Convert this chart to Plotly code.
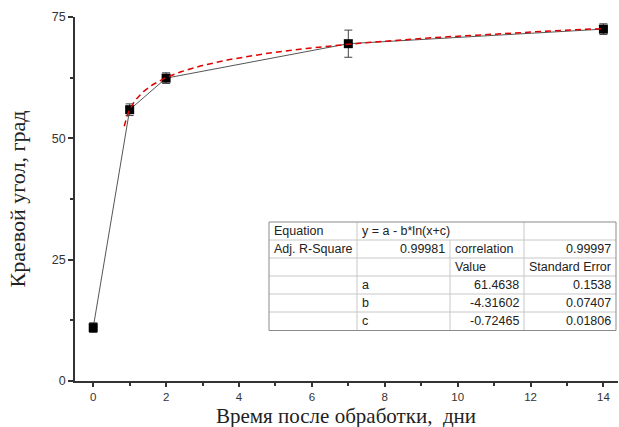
import numpy as np
import plotly.graph_objects as go

# ---- data ----
days = [0, 1, 2, 7, 14]
angle = [11.0, 55.9, 62.4, 69.5, 72.5]
angle_err = [1.0, 1.2, 1.1, 2.8, 1.1]

# fit parameters y = a - b*ln(x+c)
fit_a = 61.4638
fit_b = -4.31602
fit_c = -0.72465
fit_x_start = 0.85
fit_x_end = 14

# table texts
tbl_rows = [
    ["Equation", "y = a - b*ln(x+c)", "", ""],
    ["Adj. R-Square", "0.99981", "correlation", "0.99997"],
    ["", "", "Value", "Standard Error"],
    ["", "a", "61.4638", "0.1538"],
    ["", "b", "-4.31602", "0.07407"],
    ["", "c", "-0.72465", "0.01806"],
]
tbl_align = [
    ["left", "left", "left", "left"],
    ["left", "right", "left", "right"],
    ["left", "left", "left", "left"],
    ["left", "left", "right", "right"],
    ["left", "left", "right", "right"],
    ["left", "left", "right", "right"],
]

x_title = "Время после обработки,  дни"
y_title = "Краевой угол, град"

# ---- layout geometry (pixels) ----
W, H = 619, 427
L, R, T, B = 75, 1, 17, 46
pw, ph = W - L - R, H - T - B

def px(x):
    return (x - L) / pw

def py(y):
    return (H - B - y) / ph

fx = np.linspace(fit_x_start, fit_x_end, 300)
fy = fit_a - fit_b * np.log(fx + fit_c)

fig = go.Figure()
fig.add_trace(go.Scatter(
    x=days, y=angle, mode="lines+markers",
    line=dict(color="#555555", width=1),
    marker=dict(symbol="square", size=9, color="black"),
    error_y=dict(type="data", array=angle_err, visible=True,
                 color="#444444", thickness=1, width=4),
    showlegend=False,
))
fig.add_trace(go.Scatter(
    x=fx, y=fy, mode="lines",
    line=dict(color="#e00000", width=1.5, dash="6px,4px"),
    showlegend=False,
))

# table drawing
col_x = [269, 357, 450, 524, 616]
row_y = [222, 240, 258, 276, 294, 312, 330.5]
shapes = []
inner = dict(color="#c8c8c8", width=1)
for j, yv in enumerate(row_y[1:-1], start=1):
    shapes.append(dict(type="line", xref="paper", yref="paper",
                       x0=px(col_x[0]), x1=px(col_x[-1]), y0=py(yv), y1=py(yv), line=inner))
for i, xv in enumerate(col_x[1:-1], start=1):
    ytop = row_y[0] if i != 2 else row_y[1]
    shapes.append(dict(type="line", xref="paper", yref="paper",
                       x0=px(xv), x1=px(xv), y0=py(ytop), y1=py(row_y[-1]), line=inner))
shapes.append(dict(type="rect", xref="paper", yref="paper",
                   x0=px(col_x[0]), x1=px(col_x[-1]), y0=py(row_y[0]), y1=py(row_y[-1]),
                   line=dict(color="#8a8a8a", width=1), fillcolor="rgba(0,0,0,0)"))

annotations = []
for r, row in enumerate(tbl_rows):
    yc = (row_y[r] + row_y[r + 1]) / 2
    for c, txt in enumerate(row):
        if not txt:
            continue
        al = tbl_align[r][c]
        if al == "left":
            xa, anchor = col_x[c] + 3, "left"
        else:
            xa, anchor = col_x[c + 1] - 3, "right"
        annotations.append(dict(text=txt, x=px(xa), y=py(yc), xref="paper", yref="paper",
                                xanchor=anchor, yanchor="middle", showarrow=False,
                                font=dict(family="Liberation Sans, Arial", size=12.5, color="#222222")))

# x-axis title as annotation placed below tick labels
annotations.append(dict(text=x_title, x=px(346), y=py(429.5), xref="paper", yref="paper",
                        xanchor="center", yanchor="bottom", showarrow=False,
                        font=dict(family="Liberation Serif, Times New Roman", size=21, color="#222222")))

fig.update_layout(
    width=W, height=H,
    margin=dict(l=L, r=R, t=T, b=B),
    paper_bgcolor="white", plot_bgcolor="white",
    shapes=shapes, annotations=annotations,
    font=dict(family="Liberation Sans, Arial", size=12, color="#333333"),
)
fig.update_xaxes(
    range=[-0.5, 14.4], tickmode="array", tickvals=[0, 2, 4, 6, 8, 10, 12, 14],
    ticks="outside", ticklen=4, tickwidth=1.5, tickcolor="#333333",
    showline=True, linecolor="#333333", linewidth=1.5, showgrid=False, zeroline=False,
    minor=dict(tickvals=[1, 3, 5, 7, 9, 11, 13], ticks="outside", ticklen=3, tickwidth=1.5, tickcolor="#333333"),
    tickfont=dict(size=11.5, color="#333333"),
)
fig.update_yaxes(
    range=[0, 75], tickmode="array", tickvals=[0, 25, 50, 75],
    ticks="outside", ticklen=5, tickwidth=1.5, tickcolor="#333333",
    showline=True, linecolor="#333333", linewidth=1.5, showgrid=False, zeroline=False,
    minor=dict(tickvals=[12.5, 37.5, 62.5], ticks="outside", ticklen=3, tickwidth=1.5, tickcolor="#333333"),
    title=dict(text=y_title, font=dict(family="Liberation Serif, Times New Roman", size=22, color="#222222"), standoff=20),
    tickfont=dict(size=12.5, color="#333333"),
)

fig.write_html("out.html")
